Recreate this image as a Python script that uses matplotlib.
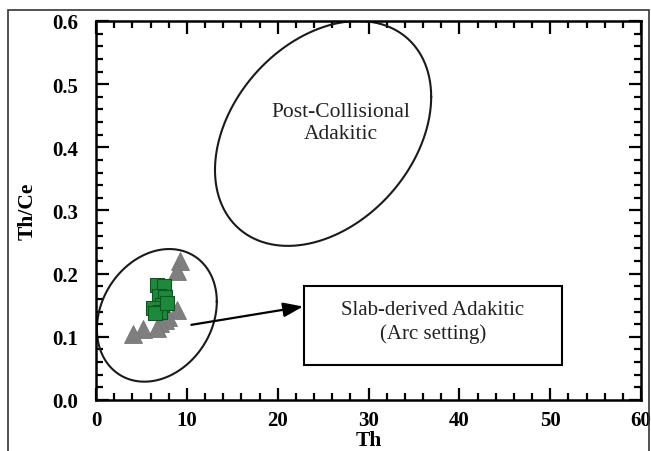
import numpy as np
import matplotlib
matplotlib.use("Agg")
from matplotlib import pyplot as plt
from matplotlib.patches import Rectangle
from matplotlib.ticker import MultipleLocator, FormatStrFormatter

plt.rcParams['font.family'] = ['Liberation Serif', 'DejaVu Serif']

# samples
tri_th = [9.25, 8.9, 8.9, 7.9, 7.6, 7.05, 6.7, 5.2, 4.1]
tri_thce = [0.220, 0.205, 0.142, 0.131, 0.127, 0.122, 0.114, 0.112, 0.104]

sq_th = [6.7, 7.5, 6.9, 7.6, 7.3, 6.3, 7.0, 6.5, 7.8]
sq_thce = [0.182, 0.181, 0.165, 0.163, 0.150, 0.145, 0.140, 0.137, 0.154]

# field outlines: centre x, centre y, half width x, half height y, tilt phase (deg)
post_field = (25.0, 0.422, 11.9, 0.178, 71)
slab_field = (6.7, 0.134, 6.6, 0.105, 78)

post_label = "Post-Collisional\nAdakitic"
slab_label = "Slab-derived Adakitic\n(Arc setting)"


def field_outline(cx, cy, a, b, phase):
    t = np.linspace(0, 2 * np.pi, 400)
    return cx + a * np.cos(t), cy + b * np.cos(t - np.radians(phase))


fig = plt.figure(figsize=(6.51, 4.52), dpi=100)
ax = fig.add_axes([96 / 651, 1 - 401 / 452, (641 - 96) / 651, (401 - 22) / 452])

# outer frame of the figure
fig.patches.append(Rectangle((8 / 651, -0.05), (649 - 8) / 651, 1.05 - 11 / 452,
                             transform=fig.transFigure, fill=False,
                             edgecolor='#333333', lw=1.2))

for fld in (post_field, slab_field):
    ex, ey = field_outline(*fld)
    ax.plot(ex, ey, color='#1a1a1a', lw=1.5)

ax.plot(tri_th, tri_thce, ls='none', marker='^', ms=12.5,
        mfc='#7f7f7f', mec='#777777', mew=0.6, zorder=3)
ax.plot(sq_th, sq_thce, ls='none', marker='s', ms=9.5,
        mfc='#1d8a3b', mec='#0d5522', mew=0.8, zorder=4)

ax.text(27.0, 0.439, post_label, ha='center', va='center', fontsize=15.5,
        linespacing=1.25, color='#222222')

ax.add_patch(Rectangle((22.9, 0.0555), 51.3 - 22.9, 0.125, fill=False,
                       edgecolor='black', lw=1.5, zorder=5))
ax.text(37.1, 0.124, slab_label, ha='center', va='center', fontsize=15,
        linespacing=1.3, color='#222222')

ax.annotate('', xy=(22.8, 0.148), xytext=(10.5, 0.119),
            arrowprops=dict(arrowstyle='-|>,head_length=0.6,head_width=0.22',
                            mutation_scale=20, lw=1.6, color='black',
                            shrinkA=0, shrinkB=0))

ax.set_xlim(0, 60)
ax.set_ylim(0, 0.6)
ax.xaxis.set_major_locator(MultipleLocator(10))
ax.xaxis.set_minor_locator(MultipleLocator(2))
ax.yaxis.set_major_locator(MultipleLocator(0.1))
ax.yaxis.set_minor_locator(MultipleLocator(0.02))
ax.yaxis.set_major_formatter(FormatStrFormatter('%.1f'))

ax.tick_params(which='both', direction='in', top=True, right=True, width=1.6)
ax.tick_params(which='major', length=9)
ax.tick_params(which='minor', length=5)
ax.tick_params(axis='x', labelsize=15, pad=7)
ax.tick_params(axis='y', labelsize=15, pad=13)
for lab in ax.get_xticklabels() + ax.get_yticklabels():
    lab.set_fontweight('bold')
for sp in ax.spines.values():
    sp.set_linewidth(1.8)

ax.set_xlabel("Th", fontsize=15.5, fontweight='bold', labelpad=0)
ax.set_ylabel("Th/Ce", fontsize=15.5, fontweight='bold', labelpad=10)

fig.savefig("out.png", dpi=100)
